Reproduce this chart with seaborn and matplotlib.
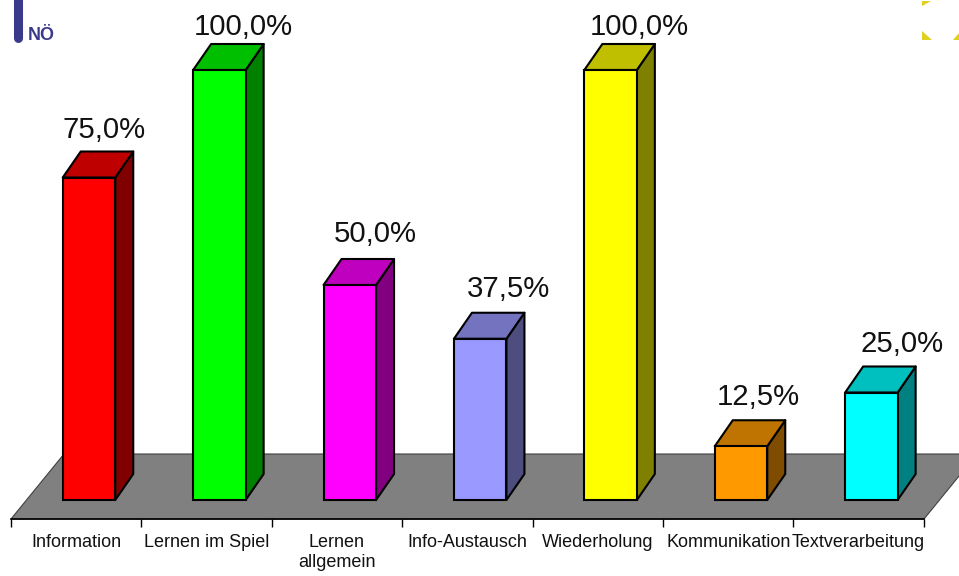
import numpy as np
import pandas as pd
import matplotlib
matplotlib.use('Agg')
import matplotlib.pyplot as plt
from matplotlib.colors import to_rgb
from matplotlib.patches import Polygon
import seaborn as sns

categories = ['Information', 'Lernen im Spiel', 'Lernen\nallgemein', 'Info-Austausch',
              'Wiederholung', 'Kommunikation', 'Textverarbeitung']
values = [75.0, 100.0, 50.0, 37.5, 100.0, 12.5, 25.0]
colors = ['#FF0000', '#00FF00', '#FF00FF', '#9999FF', '#FFFF00', '#FF9900', '#00FFFF']
value_labels = ['75,0%', '100,0%', '50,0%', '37,5%', '100,0%', '12,5%', '25,0%']

# pixel layout of the figure
W, H = 959, 576
px_x0, px_step = 89.0, 130.4   # first bar centre, category spacing
px_y0, px_pct = 500.0, 4.3     # bar base, pixels per percent
bar_w = 52.5 / px_step
depth_x = 18 / px_step
depth_y = 26 / px_pct

def dx(px):
    return (px - px_x0) / px_step

def dy(py):
    return (px_y0 - py) / px_pct

sns.set_style('white')
plt.rcParams['font.family'] = ['Liberation Sans', 'DejaVu Sans']

df = pd.DataFrame({'cat': categories, 'val': values})

fig = plt.figure(figsize=(W / 100, H / 100), dpi=100)
ax = fig.add_axes([0, 0, 1, 1])
ax.patch.set_alpha(0)

# floor
floor = Polygon([(dx(11), dy(519)), (dx(924), dy(519)), (dx(977), dy(454)), (dx(64), dy(454))],
                closed=True, facecolor='#808080', edgecolor='#404040', linewidth=0.8, zorder=0.5)
ax.add_patch(floor)

sns.barplot(data=df, x='cat', y='val', hue='cat', palette=colors, legend=False, width=bar_w,
            edgecolor='black', linewidth=1.5, saturation=1, ax=ax, zorder=3)

# 3d sides and tops
for i, v in enumerate(values):
    c = np.array(to_rgb(colors[i]))
    l, r = i - bar_w / 2, i + bar_w / 2
    side = [(r, 0), (r + depth_x, depth_y), (r + depth_x, v + depth_y), (r, v)]
    top = [(l, v), (r, v), (r + depth_x, v + depth_y), (l + depth_x, v + depth_y)]
    ax.add_patch(Polygon(side, closed=True, facecolor=c * 0.5, edgecolor='black', linewidth=1.5,
                         joinstyle='round', zorder=2))
    ax.add_patch(Polygon(top, closed=True, facecolor=c * 0.75, edgecolor='black', linewidth=1.5,
                         joinstyle='round', zorder=2))

# value labels
label_dx = [15, 24, 25, 28, 29, 17, 31]
label_dy = [48, 43, 51, 50, 43, 49, 49]
for i, v in enumerate(values):
    ax.annotate(value_labels[i], (i, v), xytext=(label_dx[i], label_dy[i]), textcoords='offset pixels',
                ha='center', va='center', fontsize=21.2, color='#111111', zorder=5)

ax.set_xlim(dx(0), dx(W))
ax.set_ylim(dy(H), dy(0))

# axis at the front of the floor, labels between the ticks
edges = [dx(11 + px_step * k) for k in range(8)]
centers = [dx(11 + px_step * (k + 0.5)) for k in range(7)]
ax.set_xticks(edges)
ax.set_xticklabels([])
ax.set_xticks(centers, minor=True)
ax.set_xticklabels(categories, minor=True, linespacing=1.7, va='top')
ax.tick_params(axis='x', which='major', length=5.5, width=1, color='black', direction='out', bottom=True)
ax.tick_params(axis='x', which='minor', length=0, pad=11, labelsize=13, labelcolor='#111111')
ax.set_xlabel('')
ax.set_ylabel('')
ax.set_yticks([])
for s in ['top', 'left', 'right']:
    ax.spines[s].set_visible(False)
ax.spines['bottom'].set_position(('data', dy(519)))
ax.spines['bottom'].set_bounds(dx(11), dx(924))
ax.spines['bottom'].set_linewidth(1.2)
ax.spines['bottom'].set_color('black')

# logo scraps in the corners of the slide
fig.add_artist(plt.Line2D([17.5 / W, 17.5 / W], [1 + 5 / H, 1 - 38 / H], color='#3A3A8C', linewidth=6.5,
                          solid_capstyle='round'))
fig.text(28 / W, 1 - 35 / H, 'NÖ', color='#3A3A8C', fontsize=13, fontweight='bold', ha='left', va='center')
for tri in [[(922, 1), (931, 1), (922, 6)], [(922, 31), (932, 40), (922, 40)], [(959, 33), (959, 40), (953, 40)]]:
    fig.add_artist(Polygon([(x / W, 1 - y / H) for x, y in tri], closed=True, transform=fig.transFigure,
                           facecolor='#E0D020', edgecolor='none'))

plt.savefig('out.png', dpi=100)
